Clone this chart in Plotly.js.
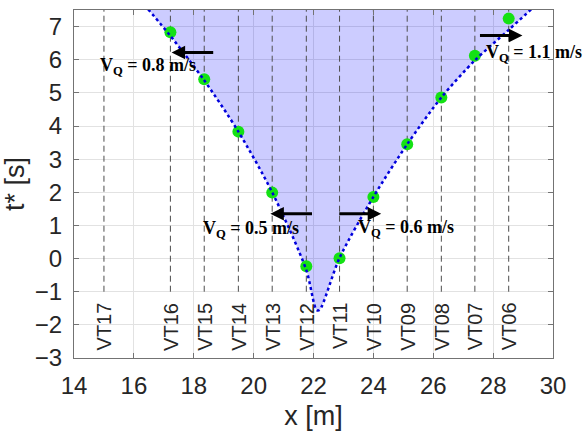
<!DOCTYPE html>
<html>
<head>
<meta charset="utf-8">
<script src="https://cdn.plot.ly/plotly-3.0.1.min.js"></script>
<style>
	html, body { margin: 0; padding: 0; background: #fff; }
	#chart { width: 584px; height: 438px; }
</style>
</head>
<body>
<div id="chart"></div>
<script>
	'use strict';

	// sensors along the tunnel (x in m) and picked arrival times t* (s)
	const sensorNames = ['VT17', 'VT16', 'VT15', 'VT14', 'VT13', 'VT12', 'VT11', 'VT10', 'VT09', 'VT08', 'VT07', 'VT06'];
	const sensorX = [15.0, 17.22, 18.35, 19.49, 20.62, 21.76, 22.87, 24.0, 25.13, 26.27, 27.39, 28.52];
	const arrivalT = [null, 6.83, 5.41, 3.83, 1.99, -0.23, 0.01, 1.86, 3.45, 4.86, 6.12, 7.24];

	// fitted front (dotted blue V)
	const frontX = [16.48, 17.21, 18.34, 19.49, 20.62, 21.76, 22.1, 22.2, 22.87, 24.0, 25.13, 26.27, 27.39, 28.52, 29.27];
	const frontY = [7.52, 6.73, 5.39, 3.83, 2.0, -0.35, -1.55, -1.55, 0.02, 1.86, 3.45, 4.86, 5.98, 6.9, 7.52];

	// propagation speed arrows
	const speedText = ['0.8', '0.5', '0.6', '1.1'];
	const arrowFromX = [18.7, 22.0, 22.81, 27.51];
	const arrowToX = [17.26, 20.56, 24.26, 28.98];
	const arrowT = [6.22, 1.35, 1.35, 6.73];
	const speedLabelX = [16.48, 19.9, 25.1, 29.35];
	const speedLabelT = [5.8, 0.88, 0.9, 6.2];

	const sensorBottom = -1;
	const sensorTop = 7.5;
	const sensorLabelT = -2.05;

	/**
	* dashed sensor lines as one trace (null breaks)
	*/
	const sensorLines = () => {
		const x = [];
		const y = [];
		sensorX.forEach(( sx ) => {
			x.push( sx, sx, null );
			y.push( sensorBottom, sensorTop, null );
		});
		return {
			x, y,
			type: 'scatter',
			mode: 'lines',
			line: { color: '#4d4d4d', width: 1, dash: '6px,4px' },
			hoverinfo: 'skip',
		};
	};

	const fill = {
		x: frontX,
		y: frontY,
		type: 'scatter',
		mode: 'none',
		fill: 'toself',
		fillcolor: 'rgba(0,0,255,0.2)',
		line: { shape: 'spline', smoothing: 0.8 },
		hoverinfo: 'skip',
	};

	const points = {
		x: sensorX,
		y: arrivalT,
		type: 'scatter',
		mode: 'markers',
		marker: { color: 'rgb(20,225,20)', size: 12, line: { width: 0 } },
	};

	const front = {
		x: frontX,
		y: frontY,
		type: 'scatter',
		mode: 'lines',
		line: { color: 'rgb(0,0,220)', width: 2.5, dash: 'dot', shape: 'spline', smoothing: 0.8 },
	};

	const annotations = [];

	sensorNames.forEach(( name, i ) => {
		annotations.push({
			x: sensorX[i], y: sensorLabelT, xref: 'x', yref: 'y',
			text: name, showarrow: false, textangle: -90,
			font: { size: 20, color: '#262626' },
		});
	});

	speedText.forEach(( v, i ) => {
		annotations.push({
			x: arrowToX[i], y: arrowT[i], ax: arrowFromX[i], ay: arrowT[i],
			xref: 'x', yref: 'y', axref: 'x', ayref: 'y',
			text: '', showarrow: true,
			arrowhead: 2, arrowsize: 0.9, arrowwidth: 3, arrowcolor: '#000',
		});
		annotations.push({
			x: speedLabelX[i], y: speedLabelT[i], xref: 'x', yref: 'y',
			text: `<b>V<sub>Q</sub> = ${v} m/s</b>`, showarrow: false,
			font: { family: 'Liberation Serif, Times New Roman, serif', size: 18, color: '#000' },
		});
	});

	const axisBase = {
		showgrid: true,
		gridcolor: '#e2e2e2',
		zeroline: false,
		showline: true,
		linecolor: '#737373',
		linewidth: 1,
		mirror: 'ticks',
		ticks: 'inside',
		ticklen: 5,
		tickcolor: '#737373',
		tickfont: { size: 24, color: '#262626' },
	};

	const layout = {
		width: 584,
		height: 438,
		margin: { l: 74, r: 31, t: 10, b: 80 },
		paper_bgcolor: '#fff',
		plot_bgcolor: '#fff',
		font: { family: 'Liberation Sans, Arial, sans-serif', color: '#262626' },
		showlegend: false,
		xaxis: Object.assign({}, axisBase, {
			range: [14, 30],
			dtick: 2,
			ticklabelstandoff: 6,
			title: { text: 'x [m]', font: { size: 27, color: '#262626' }, standoff: 8 },
		}),
		yaxis: Object.assign({}, axisBase, {
			range: [-3, 7.5],
			dtick: 1,
			ticklabelstandoff: 6,
			title: { text: 't* [s]', font: { size: 27, color: '#262626' }, standoff: 6 },
		}),
		annotations,
	};

	Plotly.newPlot(
		'chart',
		[ fill, sensorLines(), points, front ],
		layout,
		{ displayModeBar: false, staticPlot: true }
	);
</script>
</body>
</html>
